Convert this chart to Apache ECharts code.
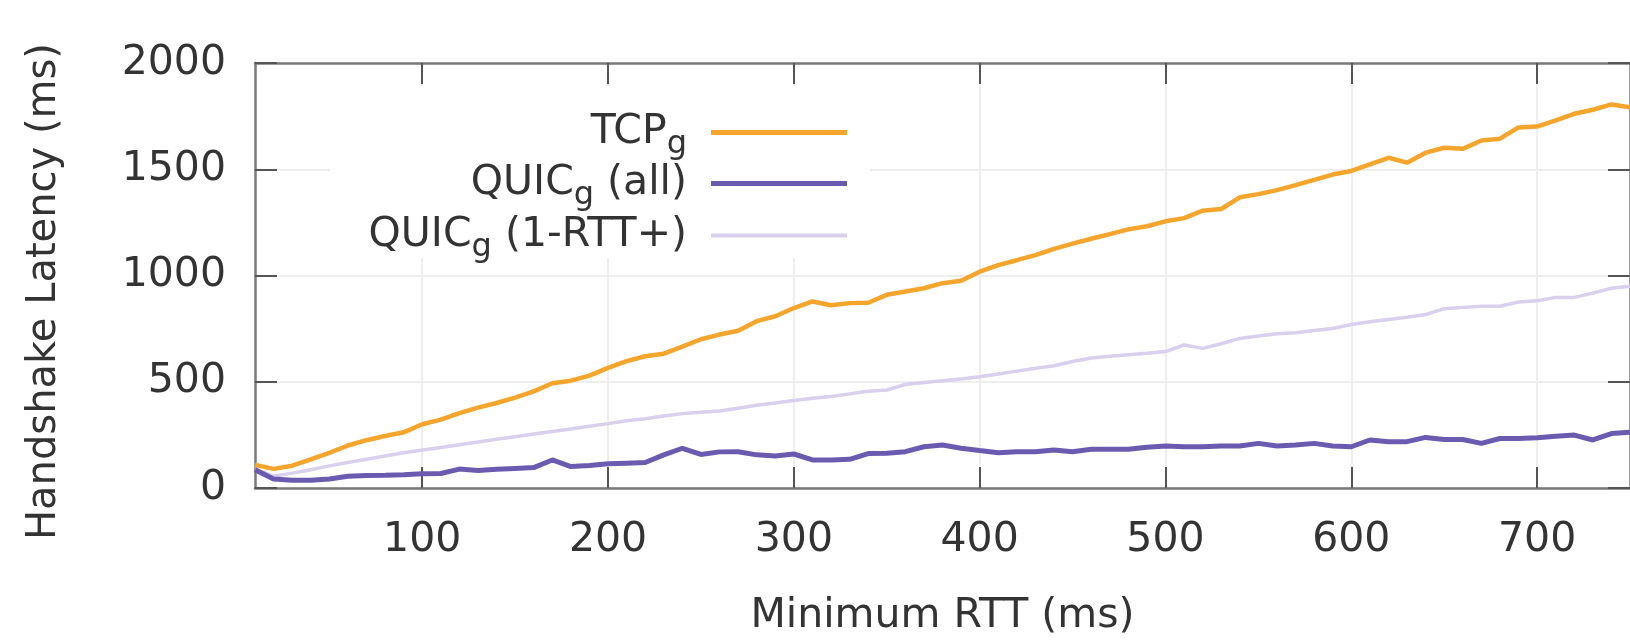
<!DOCTYPE html>
<html>
<head>
<meta charset="utf-8">
<script src="https://cdn.jsdelivr.net/npm/echarts@6/dist/echarts.min.js"></script>
<style>
  html, body { margin: 0; padding: 0; background: #fff; }
  #chart { width: 1630px; height: 642px; }
</style>
</head>
<body>
<div id="chart"></div>
<script>
// minimum RTT (ms), one point every 10 ms
const rtt = [];
for (let v = 10; v <= 750; v += 10) rtt.push(v);

const tcpG = [
  109, 90, 105, 135, 165, 200, 225, 245, 262, 300,
  322, 352, 378, 400, 425, 455, 493, 505, 529, 565,
  597, 620, 632, 665, 700, 722, 740, 785, 808, 847,
  878, 860, 870, 872, 909, 925, 940, 964, 975, 1018,
  1049, 1072, 1096, 1125, 1150, 1173, 1195, 1217, 1232, 1255,
  1270, 1305, 1313, 1368, 1383, 1402, 1425, 1450, 1475, 1492,
  1523, 1554, 1531, 1578, 1601, 1596, 1635, 1644, 1697, 1701,
  1730, 1761, 1780, 1805, 1792
];
const quicAll = [
  86, 42, 36, 36, 42, 55, 59, 60, 62, 67,
  68, 89, 82, 88, 92, 96, 132, 101, 106, 114,
  117, 120, 156, 187, 158, 170, 171, 156, 151, 160,
  132, 132, 135, 162, 163, 171, 194, 202, 187, 176,
  166, 171, 171, 179, 171, 182, 182, 182, 192, 198,
  194, 194, 198, 198, 210, 198, 202, 210, 198, 194,
  226, 218, 218, 238, 228, 228, 210, 233, 233, 236,
  244, 249, 226, 256, 262
];
const quic1rtt = [
  90, 55, 70, 86, 104, 120, 135, 151, 166, 179,
  191, 204, 216, 229, 241, 254, 266, 278, 291, 303,
  316, 326, 339, 350, 356, 362, 375, 389, 400, 412,
  422, 431, 443, 455, 461, 487, 497, 505, 513, 524,
  536, 550, 564, 575, 595, 612, 620, 627, 634, 642,
  673, 657, 679, 704, 715, 726, 731, 741, 751, 769,
  782, 793, 804, 816, 844, 850, 855, 855, 875, 881,
  897, 897, 917, 940, 950
];
const xTicks = [100, 200, 300, 400, 500, 600, 700];

const FONT = 'DejaVu Sans';
const TXT = '#333';
const ORANGE = '#f5a52c';
const PURPLE = '#6b5bb0';
const LAVENDER = '#d8d0ec';

function pairs(ys) {
  return rtt.map((x, i) => [x, ys[i]]);
}

const legendRich = {
  t: { fontFamily: FONT, fontSize: 41, color: TXT, lineHeight: 48 },
  s: { fontFamily: FONT, fontSize: 32, color: TXT, padding: [24, 0, 0, 0] }
};
const legendText = {
  'TCPg': '{t|TCP}{s|g}',
  'QUICg (all)': '{t|QUIC}{s|g}{t| (all)}',
  'QUICg (1-RTT+)': '{t|QUIC}{s|g}{t| (1-RTT+)}'
};

function makeLegend(name, top, h) {
  return {
    data: [name],
    right: 783,
    top: top,
    padding: 0,
    align: 'right',
    icon: 'rect',
    itemWidth: 136,
    itemHeight: h,
    selectedMode: false,
    formatter: n => legendText[n],
    textStyle: { padding: [0, 19, 0, 0], rich: legendRich }
  };
}

const chart = echarts.init(document.getElementById('chart'), null, { renderer: 'canvas' });

const tickStyle = { color: '#555', width: 2 };
const borderStyle = { color: '#7a7a7a', width: 2.5 };
const gridStyle = { color: '#eeeeee', width: 2 };
const plain = v => String(v);

chart.setOption({
  animation: false,
  backgroundColor: '#fff',
  grid: { left: 255, top: 63, width: 1393, height: 429, containLabel: false },
  graphic: [{
    type: 'rect', left: 330, top: 86, z: 1,
    shape: { width: 540, height: 172 },
    style: { fill: '#fff' }
  }],
  legend: [
    makeLegend('TCPg', 112, 5),
    makeLegend('QUICg (all)', 163, 5),
    makeLegend('QUICg (1-RTT+)', 215, 4)
  ],
  xAxis: [{
    type: 'value', min: 10, max: 750, position: 'bottom',
    name: 'Minimum RTT (ms)', nameLocation: 'middle', nameGap: 108,
    nameTextStyle: { fontFamily: FONT, fontSize: 41, color: TXT },
    axisLine: { show: true, onZero: false, lineStyle: borderStyle },
    axisTick: { show: true, inside: true, length: 21, customValues: xTicks, lineStyle: tickStyle },
    axisLabel: { customValues: xTicks, margin: 32, fontFamily: FONT, fontSize: 41, color: TXT, formatter: plain },
    splitLine: { show: true, lineStyle: gridStyle }
  }, {
    type: 'value', min: 10, max: 750, position: 'top',
    axisLine: { show: true, onZero: false, lineStyle: borderStyle },
    axisTick: { show: true, inside: true, length: 21, customValues: xTicks, lineStyle: tickStyle },
    axisLabel: { show: false },
    splitLine: { show: false }
  }],
  yAxis: [{
    type: 'value', min: 0, max: 2000, interval: 500, position: 'left',
    name: 'Handshake Latency (ms)', nameLocation: 'middle', nameGap: 190, nameRotate: 90,
    nameTextStyle: { fontFamily: FONT, fontSize: 40, color: TXT, padding: [0, 32, 0, 0] },
    axisLine: { show: true, onZero: false, lineStyle: borderStyle },
    axisTick: { show: true, inside: true, length: 22, lineStyle: tickStyle },
    axisLabel: { margin: 29, fontFamily: FONT, fontSize: 41, color: TXT, formatter: plain },
    splitLine: { show: true, lineStyle: gridStyle }
  }, {
    type: 'value', min: 0, max: 2000, interval: 500, position: 'right',
    axisLine: { show: true, onZero: false, lineStyle: borderStyle },
    axisTick: { show: true, inside: true, length: 22, lineStyle: tickStyle },
    axisLabel: { show: false },
    splitLine: { show: false }
  }],
  series: [{
    name: 'TCPg', type: 'line', data: pairs(tcpG),
    showSymbol: false, symbol: 'none', z: 4,
    lineStyle: { color: ORANGE, width: 4.5 },
    itemStyle: { color: ORANGE }
  }, {
    name: 'QUICg (all)', type: 'line', data: pairs(quicAll),
    showSymbol: false, symbol: 'none', z: 4,
    lineStyle: { color: PURPLE, width: 5 },
    itemStyle: { color: PURPLE }
  }, {
    name: 'QUICg (1-RTT+)', type: 'line', data: pairs(quic1rtt),
    showSymbol: false, symbol: 'none', z: 3,
    lineStyle: { color: LAVENDER, width: 3.5 },
    itemStyle: { color: LAVENDER }
  }]
});
</script>
</body>
</html>
